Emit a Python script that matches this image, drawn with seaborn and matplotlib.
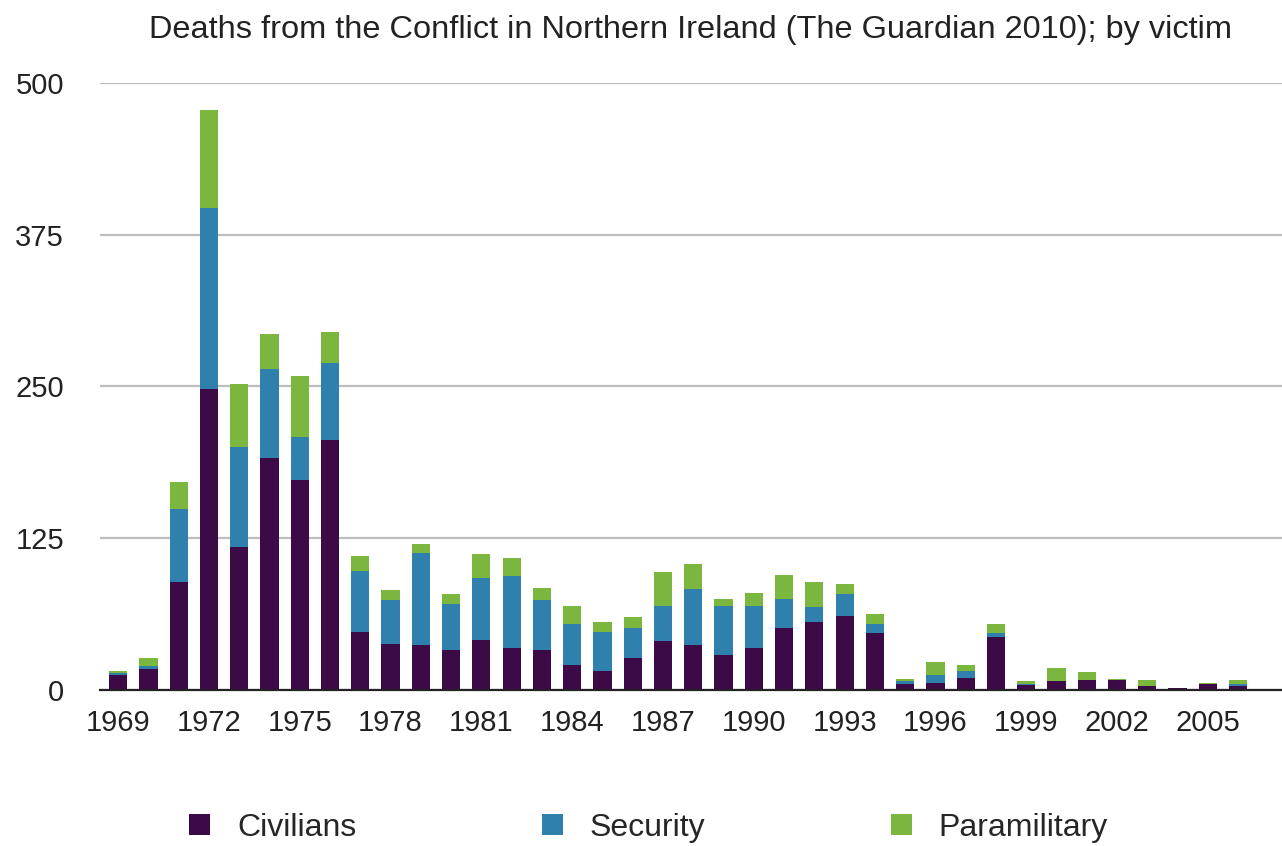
import matplotlib
matplotlib.use("Agg")
import matplotlib.pyplot as plt
import seaborn as sns
import pandas as pd
import numpy as np
from matplotlib.patches import Patch

# Deaths per year by victim group
years = list(range(1969, 2007))
civilians = [12, 17, 89, 248, 118, 191, 173, 206,
             48, 38, 37, 33, 41, 35, 33, 21, 16, 26,
             40, 37, 29, 35, 51, 56, 61, 47, 5,
             6, 10, 44, 4, 7, 8, 8, 3, 2, 5, 3]
security = [2, 3, 60, 149, 82, 73, 35, 63,
            50, 36, 76, 38, 51, 59, 41, 33, 32, 25,
            29, 46, 40, 34, 24, 12, 18, 7, 2,
            6, 6, 3, 1, 0, 0, 0, 0, 0, 0, 2]
paramilitary = [2, 6, 22, 81, 52, 29, 51, 26,
                12, 8, 7, 8, 20, 15, 10, 15, 8, 9,
                28, 21, 6, 11, 20, 21, 8, 9, 2,
                11, 5, 7, 2, 11, 7, 1, 5, 0, 1, 3]
series_names = ["Civilians", "Security", "Paramilitary"]
colors = ["#3b0a47", "#2f80ad", "#7bb63f"]
yticks = [0, 125, 250, 375, 500]

df = pd.DataFrame({"year": [str(y) for y in years],
                   "Civilians": civilians,
                   "Security": security,
                   "Paramilitary": paramilitary})

sns.set_theme(style="white")
plt.rcParams["font.family"] = ["Liberation Sans", "DejaVu Sans"]

fig = plt.figure(figsize=(12.82, 8.46), dpi=100)
ax = fig.add_axes([0.078, 0.1844, 0.922, 0.7175])

# stacked bars: each series sits on the running total of the previous ones
bottom = np.zeros(len(years))
for name, col in zip(series_names, colors):
    sns.barplot(data=df, x="year", y=name, color=col, width=0.6,
                bottom=bottom, ax=ax, saturation=1, linewidth=0,
                order=df["year"].tolist())
    bottom = bottom + df[name].to_numpy()

ax.set_ylim(0, 500)
ax.set_xlim(-0.6, 38.45)
ax.set_yticks(yticks)
ax.set_yticklabels([str(v) for v in yticks], fontsize=21, color="#222222")
ax.yaxis.grid(True, color="#bdbdbd", linewidth=1.6)
ax.set_axisbelow(True)
xt = list(range(0, len(years), 3))
ax.set_xticks(xt)
ax.set_xticklabels([str(years[i]) for i in xt], fontsize=21, color="#222222")
ax.tick_params(axis="y", length=0, pad=26)
ax.tick_params(axis="x", length=0, pad=14)
ax.set_xlabel("")
ax.set_ylabel("")
for s in ["top", "right", "left"]:
    ax.spines[s].set_visible(False)
ax.spines["bottom"].set_color("#222222")
ax.spines["bottom"].set_linewidth(1.6)

fig.text(0.539, 1 - 30 / 846,
         "Deaths from the Conflict in Northern Ireland (The Guardian 2010); by victim",
         ha="center", va="center", fontsize=23.4, color="#222222")

handles = [Patch(facecolor=c, edgecolor="none", label=n) for n, c in zip(series_names, colors)]
fig.legend(handles=handles, loc="center", bbox_to_anchor=(0.506, 1 - 828 / 846), ncol=3,
           frameon=False, fontsize=23, handlelength=0.65, handleheight=0.65,
           handletextpad=0.85, columnspacing=5.8, borderpad=0)

fig.savefig("out.png", dpi=100)
